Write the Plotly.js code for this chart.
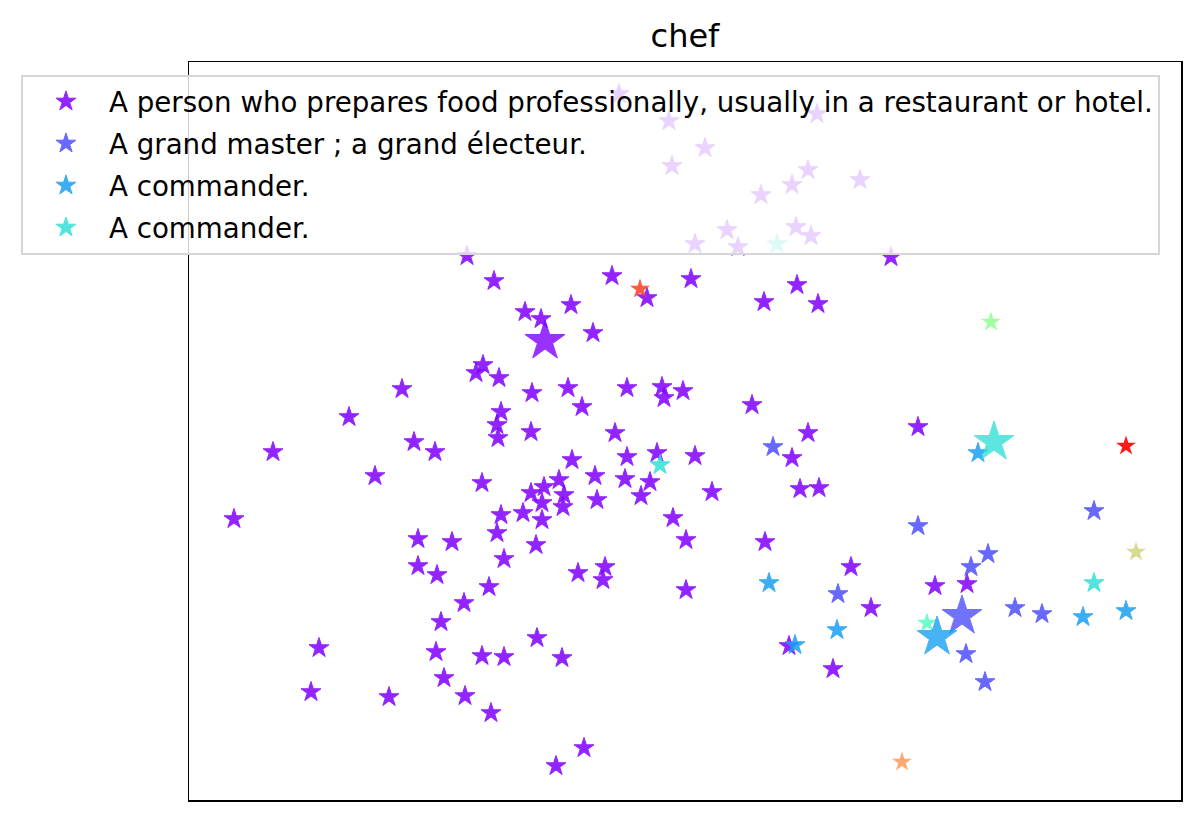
<!DOCTYPE html>
<html>
<head>
<meta charset="utf-8">
<script src="https://cdn.plot.ly/plotly-3.0.1.min.js"></script>
<style>body{margin:0;background:#fff}#chart{width:1200px;height:821px}</style>
</head>
<body>
<div id="chart"></div>
<script>
// Values (arbitrary embedding units, y grows upward)
const seriesNames = [
  "A person who prepares food professionally, usually in a restaurant or hotel.",
  "A grand master ; a grand électeur.",
  "A commander.",
  "A commander."
];

// sense 1 (purple)
const s1x = [619,669,705,672,817,761,792,808,860,727,796,811,695,738,467,891,
  494,612,691,647,571,525,541,593,764,797,818,
  483,476,499,402,532,568,582,627,662,664,683,501,349,752,
  497,498,531,615,414,435,273,572,627,657,695,808,792,918,
  375,482,595,625,650,559,544,531,641,564,542,563,597,523,501,542,673,712,800,819,
  234,497,418,452,536,504,686,765,
  418,437,578,605,603,489,464,686,851,871,935,967,
  441,537,482,504,562,436,319,789,833,
  444,311,389,465,491,584,556];
const s1y = [727,700,673,655,707,626,636,651,641,591,594,585,577,574,565,564,
  540,545,542,523,516,509,502,488,519,536,517,
  456,448,443,432,428,433,414,433,434,423,430,409,404,416,
  396,383,389,388,379,369,369,361,364,368,365,388,363,394,
  345,338,345,342,339,341,334,328,325,326,318,314,321,308,306,301,303,329,332,333,
  302,288,282,279,276,262,281,279,
  255,246,248,254,241,234,218,231,254,213,235,237,
  199,183,165,164,163,169,173,175,152,
  143,129,124,125,108,73,55];
// sense 2 (blue)
const s2x = [773,918,1094,988,971,838,1015,1042,966,985];
const s2y = [374,295,310,267,254,227,213,207,167,139];
// sense 3 (sky blue)
const s3x = [978,769,837,795,1083,1126];
const s3y = [368,238,191,176,204,210];
// sense 4 (cyan)
const s4x = [660,1094,777];
const s4y = [356,238,577];

// centroids (large stars)
const cx = [545, 962, 937, 994];
const cy = [480, 205, 184, 379];

// other points
const ox = [991, 927, 1136, 902, 640, 1126];
const oy = [499, 198, 269, 59, 532, 375];
const oColors = ["rgba(128,255,128,0.75)","rgba(77,252,190,0.8)","rgba(200,205,110,0.75)","rgba(255,140,70,0.75)","rgba(255,60,30,0.85)","rgba(255,0,0,0.9)"];

const colors = ["#8000ff", "#4d4ffc", "#1a9ff2", "#33e0d8"];
const SMALL = 15, BIG = 30;

const xs = [s1x, s2x, s3x, s4x], ys = [s1y, s2y, s3y, s4y];
const traces = [];
for (let i = 0; i < 4; i++) {
  traces.push({
    type: "scatter", mode: "markers", x: xs[i], y: ys[i], name: seriesNames[i],
    legendgroup: "g" + i,
    marker: {symbol: "star", size: SMALL, color: colors[i], opacity: 0.85,
             line: {width: 1, color: colors[i]}}
  });
}
traces.push({
  type: "scatter", mode: "markers", x: ox, y: oy, showlegend: false,
  marker: {symbol: "star", size: SMALL, color: oColors, line: {width: 0}}
});
traces.push({
  type: "scatter", mode: "markers", x: cx, y: cy, showlegend: false,
  marker: {symbol: "star", size: BIG, color: colors, opacity: 0.8,
           line: {width: 1, color: colors}}
});

const layout = {
  width: 1200, height: 821,
  margin: {l: 189, r: 19, t: 62, b: 21},
  paper_bgcolor: "#fff", plot_bgcolor: "#fff",
  font: {family: "DejaVu Sans", color: "#000"},
  title: {text: "chef", font: {size: 32, family: "DejaVu Sans", color: "#000"},
          x: 0.5708, xanchor: "center", y: 0.957, yanchor: "middle", yref: "container"},
  xaxis: {range: [189, 1181], showgrid: false, zeroline: false, showticklabels: false,
          ticks: "", showline: true, mirror: true, linecolor: "#000", linewidth: 1.5},
  yaxis: {range: [21, 759], showgrid: false, zeroline: false, showticklabels: false,
          ticks: "", showline: true, mirror: true, linecolor: "#000", linewidth: 1.5},
  showlegend: true,
  legend: {x: -0.1694, xanchor: "left", y: 0.9825, yanchor: "top",
           bgcolor: "rgba(255,255,255,0.8)", bordercolor: "#d6d6d6", borderwidth: 2,
           font: {size: 27.7, family: "DejaVu Sans", color: "#000"},
           itemwidth: 76, tracegroupgap: 3}
};

Plotly.newPlot("chart", traces, layout, {displayModeBar: false, staticPlot: true});
</script>
</body>
</html>
